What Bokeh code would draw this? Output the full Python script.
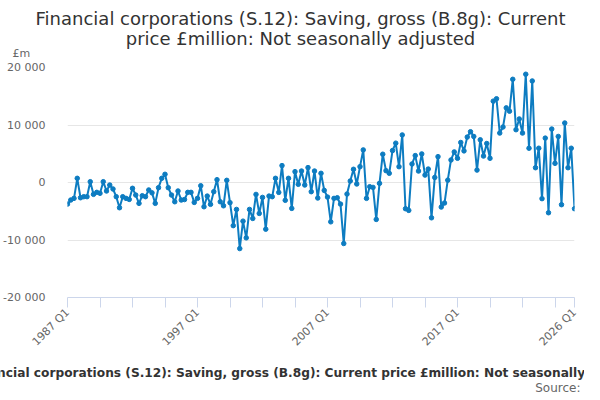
import math
from bokeh.plotting import figure
from bokeh.layouts import column
from bokeh.models import Range1d, FixedTicker, Label, ColumnDataSource
from bokeh.embed import file_html
from bokeh.resources import INLINE

start_year = 1987
values = [
    -3750, -3050, -2760, 730, -2650, -2470, -2470, 140, -2060, -1710,
    -1880, 140, -1480, -440, -1130, -2470, -4390, -2470, -2760, -2940,
    -1010, -2180, -3630, -2300, -2470, -1300, -1800, -3630, -900, 730,
    1430, -900, -2180, -3350, -1480, -3050, -2970, -1710, -1710, -3460,
    -2760, -560, -4220, -2360, -3800, -1600, 490, -3350, -4050, 380,
    -3500, -7500, -4680, -11490, -6720, -9630, -4680, -6250, -2070, -5380,
    -2590, -8120, -2360, -2470, 730, -1720, 2940, -3100, 730, -4500,
    1890, -320, 2000, -440, 2590, -1600, 2000, -2700, 1600, -1370,
    -2530, -6840, -2760, -2650, -3750, -10610, -2010, 260, 2300, -260,
    2760, 5670, -2760, -730, -850, -6420, -150, 4920, 2060, 1600,
    5550, 6840, 2750, 8270, -4560, -4850, 3220, 4680, 1990, 4970,
    1290, 2340, -6140, 880, 4500, -4270, -3570, 410, 3920, 5320,
    4210, 6960, 5500, 7900, 8830, 8010, 2160, 7430, 4600, 6780,
    4210, 14150, 14560, 8600, 9650, 12980, 12400, 17950, 9180, 11050,
    8600, 18830, 5960, 17660, 2570, 5960, -2810, 7720, -5260, 9300,
    3330, 8010, -3860, 10350, 2570, 5960, -4560,
]
quarters = [f"{start_year + k // 4} Q{k % 4 + 1}" for k in range(len(values))]
y_ticks = [-20000, -10000, 0, 10000, 20000]
y_tick_labels = ["-20 000", "-10 000", "0", "10 000", "20 000"]
x_label_quarters = ["1987 Q1", "1997 Q1", "2007 Q1", "2017 Q1", "2026 Q1"]

title_line1 = "Financial corporations (S.12): Saving, gross (B.8g): Current"
title_line2 = "price £million: Not seasonally adjusted"
caption = "Financial corporations (S.12): Saving, gross (B.8g): Current price £million: Not seasonally adjusted"
source_text = "Source:"
unit_text = "£m"

FONT = "DejaVu Sans"
LINE_COLOR = "#0d7cc1"
W = 584
TOP_H, MAIN_H, BOT_H = 60, 300, 32

n = len(values)
idx = list(range(n))
src = ColumnDataSource(dict(x=idx, y=values, q=quarters))


def text_fig(h):
    f = figure(width=W, height=h, output_backend="svg", toolbar_location=None,
               x_range=Range1d(0, W), y_range=Range1d(h, 0),
               x_axis_type=None, y_axis_type=None, min_border=0, frame_align=False)
    f.outline_line_color = None
    f.grid.visible = False
    f.background_fill_color = "white"
    f.border_fill_color = "white"
    return f


def lab(f, x, y, text, align, size, color, style="normal"):
    f.add_layout(Label(x=x, y=y, text=text, text_align=align,
                       text_baseline="alphabetic", text_font=FONT,
                       text_font_size=size, text_font_style=style, text_color=color))


# title block
top = text_fig(TOP_H)
lab(top, 300, 18, title_line1, "center", "18px", "#333333")
lab(top, 300, 38, title_line2, "center", "18px", "#333333")
lab(top, 12, 53, unit_text, "left", "11px", "#666666")

# main chart
p = figure(width=W, height=MAIN_H, output_backend="svg", toolbar_location=None,
           x_range=Range1d(0, n - 1), y_range=Range1d(-20000, 20000),
           min_border_left=61, min_border_right=10, min_border_top=7, min_border_bottom=63,
           frame_align=False)
p.outline_line_color = None
p.background_fill_color = "white"
p.border_fill_color = "white"

p.line("x", "y", source=src, line_color=LINE_COLOR, line_width=2)
p.scatter("x", "y", source=src, size=4.5, fill_color=LINE_COLOR, line_color=LINE_COLOR)

ya = p.yaxis[0]
ya.ticker = FixedTicker(ticks=y_ticks)
ya.major_label_overrides = {t: l for t, l in zip(y_ticks, y_tick_labels)}
ya.axis_line_color = None
ya.major_tick_line_color = None
ya.minor_tick_line_color = None
ya.major_label_standoff = 16
ya.major_label_text_font = FONT
ya.major_label_text_font_size = "11px"
ya.major_label_text_color = "#666666"

p.ygrid.ticker = FixedTicker(ticks=y_ticks)
p.ygrid.grid_line_color = "#e6e6e6"
p.xgrid.grid_line_color = None

xa = p.xaxis[0]
x_ticks = list(range(0, n - 1, 10)) + [n - 1]
label_pos = {quarters.index(q): q for q in x_label_quarters}
xa.ticker = FixedTicker(ticks=x_ticks)
xa.major_label_overrides = {t: label_pos.get(t, "") for t in x_ticks}
xa.axis_line_color = "#ccd6eb"
xa.major_tick_line_color = "#ccd6eb"
xa.major_tick_out = 10
xa.major_tick_in = 0
xa.minor_tick_line_color = None
xa.major_label_orientation = math.pi / 4
xa.major_label_standoff = 3
xa.major_label_text_font = FONT
xa.major_label_text_font_size = "11px"
xa.major_label_text_color = "#666666"

# caption block
bot = text_fig(BOT_H)
lab(bot, 308, 12, caption, "center", "12.2px", "#333333", "bold")
lab(bot, 580, 27, source_text, "right", "12px", "#666666")

layout = column(top, p, bot, spacing=0)
open("out.html", "w").write(file_html(layout, INLINE))
